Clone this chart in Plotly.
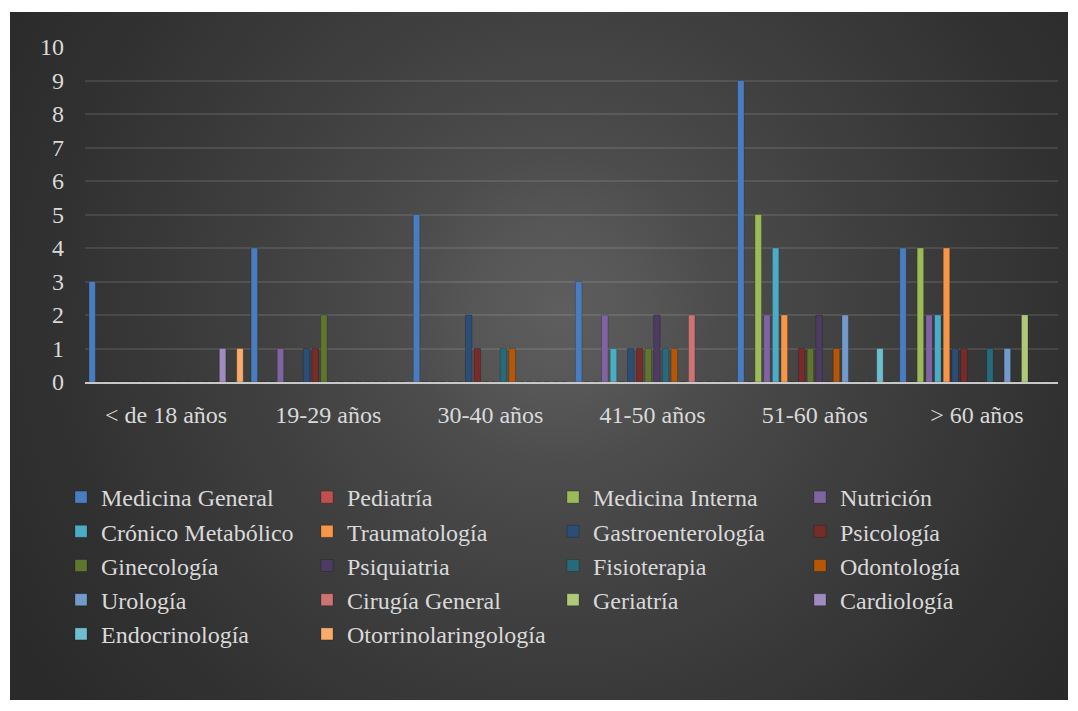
import base64
import plotly.graph_objects as go

# Age groups on the category axis
age_groups = ["< de 18 años", "19-29 años", "30-40 años", "41-50 años", "51-60 años", "> 60 años"]

# Number of consultations per specialty and age group
medicina_general = [3, 4, 5, 3, 9, 4]
pediatria = [0, 0, 0, 0, 0, 0]
medicina_interna = [0, 0, 0, 0, 5, 4]
nutricion = [0, 1, 0, 2, 2, 2]
cronico_metabolico = [0, 0, 0, 1, 4, 2]
traumatologia = [0, 0, 0, 0, 2, 4]
gastroenterologia = [0, 1, 2, 1, 0, 1]
psicologia = [0, 1, 1, 1, 1, 1]
ginecologia = [0, 2, 0, 1, 1, 0]
psiquiatria = [0, 0, 0, 2, 2, 0]
fisioterapia = [0, 0, 1, 1, 0, 1]
odontologia = [0, 0, 1, 1, 1, 0]
urologia = [0, 0, 0, 0, 2, 1]
cirugia_general = [0, 0, 0, 2, 0, 0]
geriatria = [0, 0, 0, 0, 0, 2]
cardiologia = [1, 0, 0, 0, 0, 0]
endocrinologia = [0, 0, 0, 0, 1, 0]
otorrinolaringologia = [1, 0, 0, 0, 0, 0]

y_ticks = list(range(0, 11))

series = [
    ("Medicina General", medicina_general, "#4A7DBF", "legend"),
    ("Pediatría", pediatria, "#C0504D", "legend2"),
    ("Medicina Interna", medicina_interna, "#9BBB59", "legend3"),
    ("Nutrición", nutricion, "#8064A2", "legend4"),
    ("Crónico Metabólico", cronico_metabolico, "#4BACC6", "legend"),
    ("Traumatología", traumatologia, "#F79646", "legend2"),
    ("Gastroenterología", gastroenterologia, "#2C4D75", "legend3"),
    ("Psicología", psicologia, "#772C2A", "legend4"),
    ("Ginecología", ginecologia, "#5F7530", "legend"),
    ("Psiquiatria", psiquiatria, "#4D3B62", "legend2"),
    ("Fisioterapia", fisioterapia, "#276A7C", "legend3"),
    ("Odontología", odontologia, "#B65708", "legend4"),
    ("Urología", urologia, "#729ACA", "legend"),
    ("Cirugía General", cirugia_general, "#CD7371", "legend2"),
    ("Geriatría", geriatria, "#AFC97A", "legend3"),
    ("Cardiología", cardiologia, "#9F8BBF", "legend4"),
    ("Endocrinología", endocrinologia, "#6FBDD1", "legend"),
    ("Otorrinolaringología", otorrinolaringologia, "#F9AB6B", "legend2"),
]

FONT = "Liberation Serif"
TEXT = "#D9D9D9"
W, H = 1078, 711
L, R, T, B = 85, 20, 47, 329

fig = go.Figure()
for name, vals, color, leg in series:
    fig.add_trace(go.Bar(
        name=name, x=age_groups, y=vals,
        marker=dict(color=color, line=dict(width=0.6, color="rgba(0,0,0,0.35)")),
        legend=leg, legendgroup=name,
    ))

# Dark radial-gradient chart area behind everything
bg_w, bg_h = 1058, 688
svg = f'''<svg xmlns="http://www.w3.org/2000/svg" width="{bg_w}" height="{bg_h}" viewBox="0 0 {bg_w} {bg_h}" preserveAspectRatio="none">
<defs><radialGradient id="g" gradientUnits="userSpaceOnUse" cx="550" cy="298" r="640">
<stop offset="0" stop-color="#5e5e5e"/><stop offset="0.14" stop-color="#565656"/>
<stop offset="0.25" stop-color="#4c4c4c"/><stop offset="0.47" stop-color="#404040"/>
<stop offset="0.79" stop-color="#313131"/><stop offset="1" stop-color="#2a2a2a"/>
</radialGradient></defs><rect width="{bg_w}" height="{bg_h}" fill="url(#g)"/></svg>'''
src = "data:image/svg+xml;base64," + base64.b64encode(svg.encode()).decode()

pw, ph = W - L - R, H - T - B
fig.add_layout_image(dict(
    source=src, xref="paper", yref="paper",
    x=(10 - L) / pw, y=(H - B - 12) / ph,
    sizex=bg_w / pw, sizey=bg_h / ph,
    xanchor="left", yanchor="top", sizing="stretch", layer="below",
))

legend_style = dict(
    font=dict(family=FONT, size=24, color=TEXT),
    bgcolor="rgba(0,0,0,0)", xref="container", yref="container",
    yanchor="top", xanchor="left", orientation="v", tracegroupgap=0,
)
legend_x = [61, 307, 553, 800]
legend_top = 475

fig.update_layout(
    width=W, height=H, autosize=False,
    margin=dict(l=L, r=R, t=T, b=B, autoexpand=False),
    paper_bgcolor="white", plot_bgcolor="rgba(0,0,0,0)",
    barmode="group", bargap=0.035, bargroupgap=0.25,
    font=dict(family=FONT, size=24, color=TEXT),
    xaxis=dict(
        showgrid=False, showline=True, linecolor="#C8C8C8", linewidth=2,
        ticks="", ticklabelstandoff=10, tickfont=dict(family=FONT, size=24, color=TEXT),
        zeroline=False, automargin=False,
    ),
    yaxis=dict(
        range=[0, 10], tickvals=y_ticks, ticks="", ticklabelstandoff=20,
        showgrid=True, gridcolor="rgba(255,255,255,0.10)", gridwidth=2,
        zeroline=False, showline=False, automargin=False,
        tickfont=dict(family=FONT, size=24, color=TEXT),
    ),
    legend=dict(legend_style, x=legend_x[0] / W, y=1 - legend_top / H),
    legend2=dict(legend_style, x=legend_x[1] / W, y=1 - legend_top / H),
    legend3=dict(legend_style, x=legend_x[2] / W, y=1 - legend_top / H),
    legend4=dict(legend_style, x=legend_x[3] / W, y=1 - legend_top / H),
)

fig.write_html("out.html", config={"displayModeBar": False})
